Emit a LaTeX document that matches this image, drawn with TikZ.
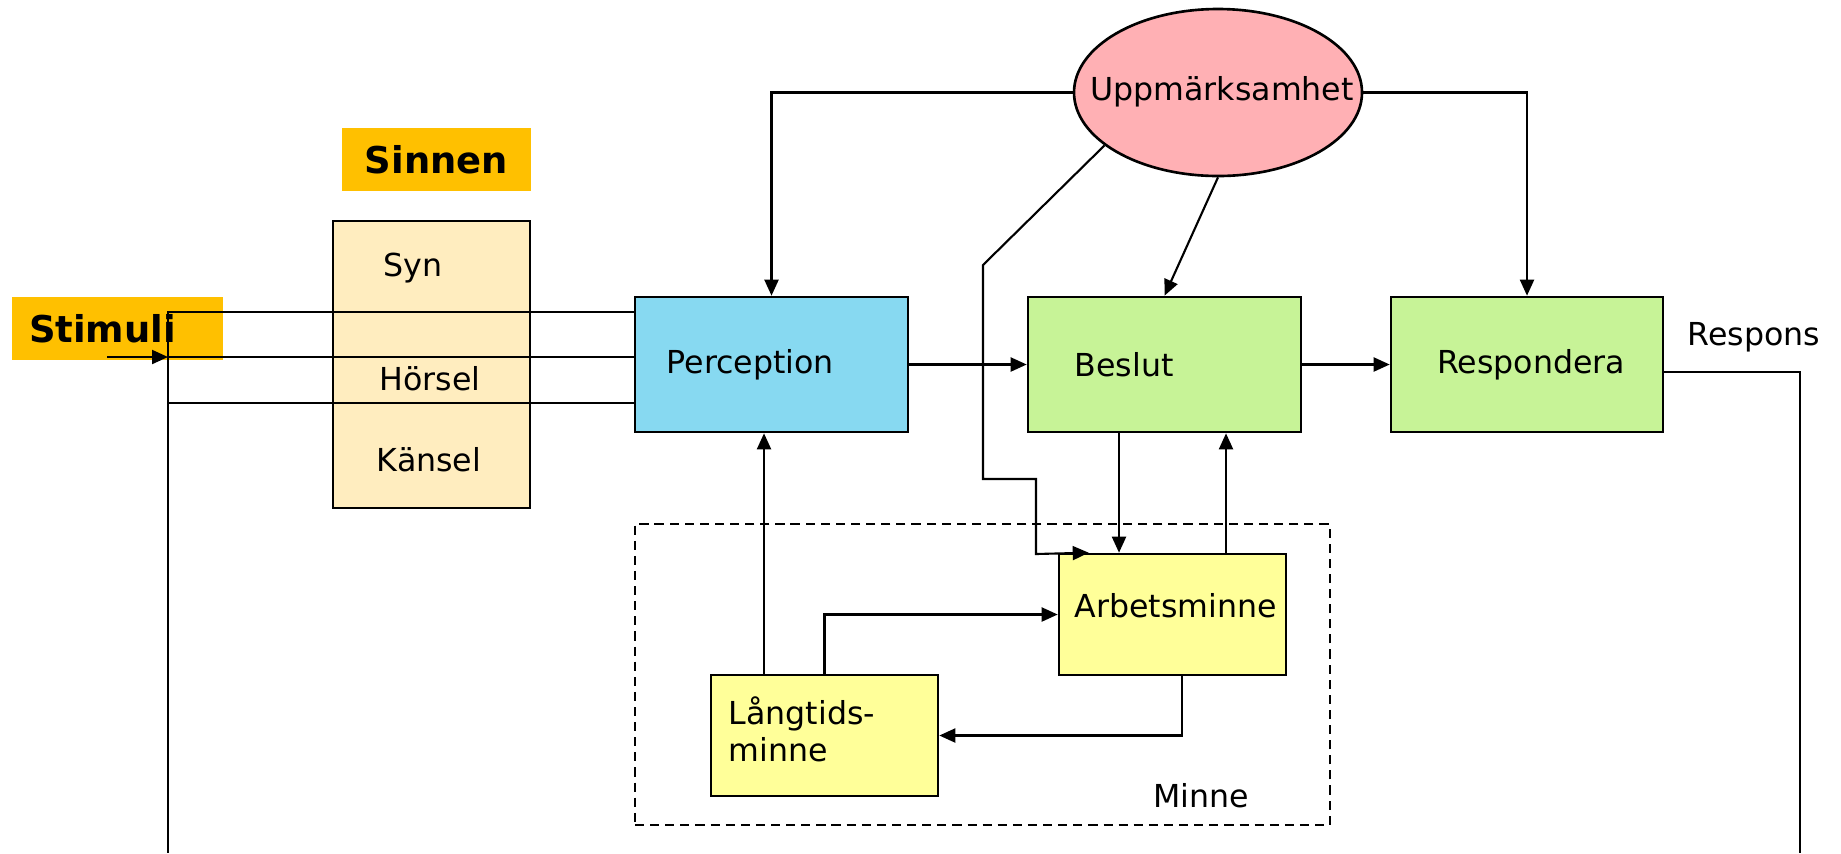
\documentclass[tikz,border=0pt]{standalone}
\usepackage{fontspec}
\setmainfont{DejaVu Sans}
\usepackage{tikz}
\usetikzlibrary{shapes.geometric,arrows.meta,positioning,calc}

\definecolor{stimorange}{HTML}{FFC000}
\definecolor{sensefill}{HTML}{FFEDBF}
\definecolor{percepblue}{HTML}{87D9F1}
\definecolor{actgreen}{HTML}{C7F397}
\definecolor{attnpink}{HTML}{FFB0B4}
\definecolor{memyellow}{HTML}{FFFF99}

\begin{document}
\begin{tikzpicture}[x=0.1mm, y=-0.1mm,
    font=\fontsize{9}{10.5}\selectfont,
    block/.style={rectangle, draw, line width=0.75pt, minimum width=27.3mm, minimum height=13.5mm, inner sep=0pt},
    membox/.style={rectangle, draw, line width=0.75pt, fill=memyellow, minimum width=22.7mm, minimum height=12.1mm, inner sep=0pt},
    tag/.style={rectangle, fill=stimorange, inner sep=0pt, minimum height=6.3mm, font=\fontsize{10.5}{12}\selectfont\bfseries},
    txt/.style={inner sep=0pt},
    line/.style={line width=0.6pt},
    arrow/.style={line, -{Triangle[length=1.6mm, width=1.4mm]}}]

    \useasboundingbox (0,0) rectangle (1841,853);

    % Inputs
    \node[tag, text width=17.7mm, inner xsep=1.7mm, align=left] (stimuli) at (117.5,328.5) {Stimuli};
    \node[tag, minimum width=18.9mm] (sinnen) at (436.5,159.5) {Sinnen};
    \node[rectangle, draw, line width=0.75pt, fill=sensefill, minimum width=19.7mm, minimum height=28.7mm] (senses) at (431.5,364.5) {};
    \node[txt] (syn) at (413,268) {Syn};
    \node[txt] (horsel) at (430,379) {Hörsel};
    \node[txt] (kansel) at (429,460) {Känsel};

    % Main chain
    \node[block, fill=percepblue] (percep) at (771.5,364.5) {};
    \node[txt, anchor=west] (perceptxt) at (666,365) {Perception};
    \node[block, fill=actgreen] (beslut) at (1164.5,364.5) {};
    \node[txt, anchor=west] (beslutxt) at (1074,365) {Beslut};
    \node[block, fill=actgreen, minimum width=27.2mm] (resp) at (1527,364.5) {\hspace*{0.8mm}Respondera};
    \node[txt, anchor=west] (respons) at (1687,337) {Respons};

    % Attention
    \node[ellipse, draw, line width=0.75pt, fill=attnpink, minimum width=28.8mm, minimum height=16.7mm, inner sep=0pt] (attn) at (1218,92.5) {};
    \node[txt] (attntxt) at (1222,92) {Uppmärksamhet};

    % Memory
    \node[rectangle, draw, line width=0.65pt, dash pattern=on 2.6pt off 1.7pt, minimum width=69.5mm, minimum height=30.1mm] (minne) at (982.5,674.5) {};
    \node[txt] (minnetxt) at (1201,796) {Minne};
    \node[membox] (arbets) at (1172.5,614.5) {};
    \node[txt, anchor=west] (arbetstxt) at (1074,606) {Arbetsminne};
    \node[membox] (longmem) at (824.5,735.5) {};
    \node[txt, anchor=west, align=left] (longtxt) at (728,729) {Långtids-\\minne};

    % Free ends
    \coordinate (fbleft) at (168,853);
    \coordinate (respend) at (1800,853);
    \coordinate (stimin) at (107,357);

    % Stimuli lines
    \draw[line] ([yshift=5.25mm]percep.west) -| (fbleft);
    \draw[line] ([yshift=-3.85mm]percep.west) -- ([yshift=-3.85mm]percep.west -| fbleft);
    \draw[arrow] (stimin) -- (stimin -| fbleft);
    \draw[line] (stimin -| fbleft) -- (stimin -| percep.west);

    % Chain arrows
    \draw[arrow] (percep) -- (beslut);
    \draw[arrow] (beslut) -- (resp);
    \draw[line] ([yshift=-0.75mm]resp.east) -| (respend);

    % Attention arrows
    \draw[arrow] (attn.west) -| (percep.north);
    \draw[arrow] (attn.east) -| (resp.north);
    \draw[arrow] (attn.south) -- (beslut.north);
    \draw[arrow] (attn.205) -- (983,265) -- (983,479) -| (1036,554) -- ([xshift=3.1mm]arbets.north west);

    % Memory arrows
    \draw[arrow] ([xshift=-4.55mm]beslut.south) -- ([xshift=-4.55mm]beslut.south |- arbets.north);
    \draw[arrow] ([xshift=6.15mm]beslut.south |- arbets.north) -- ([xshift=6.15mm]beslut.south);
    \draw[arrow] ([xshift=-0.75mm]percep.south |- longmem.north) -- ([xshift=-0.75mm]percep.south);
    \draw[arrow] (longmem.north) |- (arbets.west);
    \draw[arrow] ([xshift=0.95mm]arbets.south) |- (longmem.east);

\end{tikzpicture}
\end{document}
